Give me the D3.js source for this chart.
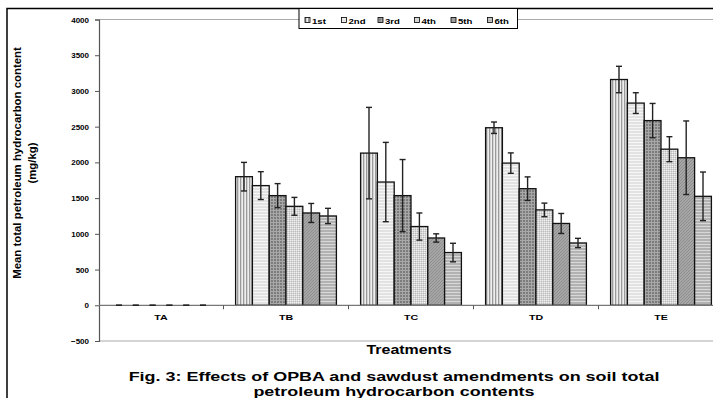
<!DOCTYPE html>
<html>
<head>
<meta charset="utf-8">
<script src="https://cdn.jsdelivr.net/npm/d3@7"></script>
<style>
  body { margin: 0; background: #fff; }
  svg { display: block; font-family: "Liberation Sans", Arial, sans-serif; }
</style>
</head>
<body>
<svg id="chart" width="713" height="398"></svg>
<script>
const treatments = ['TA', 'TB', 'TC', 'TD', 'TE'];
const series = ['1st', '2nd', '3rd', '4th', '5th', '6th'];
// mean TPH per treatment, one array per sampling
const means = {
  '1st': [0, 1800, 2130, 2485, 3160],
  '2nd': [0, 1675, 1725, 1990, 2830],
  '3rd': [0, 1535, 1535, 1632, 2585],
  '4th': [0, 1385, 1102, 1335, 2185],
  '5th': [0, 1292, 942, 1145, 2065],
  '6th': [0, 1250, 738, 872, 1525]
};
const errors = {
  '1st': [0, 200, 640, 80, 185],
  '2nd': [0, 195, 555, 143, 145],
  '3rd': [0, 168, 505, 165, 240],
  '4th': [0, 125, 190, 95, 175],
  '5th': [0, 133, 58, 140, 515],
  '6th': [0, 107, 130, 65, 340]
};
const yTicks = [-500, 0, 500, 1000, 1500, 2000, 2500, 3000, 3500, 4000];

const svg = d3.select('#chart');
const defs = svg.append('defs');

// the original picture is a little wider than tall, so text is stretched sideways
const SX = 1.33;
function label(x, y, txt, size, anchor) {
  return svg.append('text')
    .attr('transform', `translate(${x},${y}) scale(${SX},1)`)
    .attr('text-anchor', anchor || 'middle')
    .attr('font-size', size).attr('font-weight', 'bold')
    .text(txt);
}

// fill patterns, one per sampling
function pattern(id, w, h, bg, draw) {
  const p = defs.append('pattern')
    .attr('id', id)
    .attr('patternUnits', 'userSpaceOnUse')
    .attr('width', w).attr('height', h);
  p.append('rect').attr('width', w).attr('height', h).attr('fill', bg);
  draw(p);
}
pattern('p0', 3, 3, '#d4d4d4', p => {
  p.append('rect').attr('x', 0).attr('width', 1).attr('height', 3).attr('fill', '#9a9a9a');
  p.append('rect').attr('x', 2).attr('width', 1).attr('height', 3).attr('fill', '#eeeeee');
});
pattern('p1', 3, 3, '#e2e2e2', p => {
  p.append('rect').attr('y', 1).attr('width', 3).attr('height', 1).attr('fill', '#f6f6f6');
});
pattern('p2', 3, 3, '#7c7c7c', p => {
  p.append('rect').attr('x', 0).attr('width', 1).attr('height', 3).attr('fill', '#a8a8a8');
  p.append('rect').attr('y', 0).attr('width', 3).attr('height', 1).attr('fill', '#a8a8a8');
});
pattern('p3', 2, 2, '#d6d6d6', p => {
  p.append('rect').attr('x', 0).attr('y', 0).attr('width', 1).attr('height', 1).attr('fill', '#efefef');
  p.append('rect').attr('x', 1).attr('y', 1).attr('width', 1).attr('height', 1).attr('fill', '#bcbcbc');
});
pattern('p4', 3, 3, '#a6a6a6', p => {
  p.append('path').attr('d', 'M0,3 L3,0').attr('stroke', '#888').attr('stroke-width', 0.8);
});
pattern('p5', 3, 3, '#b2b2b2', p => {
  p.append('rect').attr('y', 1).attr('width', 3).attr('height', 1).attr('fill', '#d8d8d8');
});
const fillOf = s => `url(#p${series.indexOf(s)})`;

const x0 = d3.scaleBand().domain(treatments).range([98.5, 723.5]).padding(0);
const x1 = d3.scaleBand().domain(series).range([0, x0.bandwidth()]).paddingInner(0).paddingOuter(0.72);
const y = d3.scaleLinear().domain([-500, 4000]).range([341, 19.5]);

// outer frame
svg.append('path').attr('d', 'M7,398 V8.5 H713').attr('fill', 'none')
  .attr('stroke', '#000').attr('stroke-width', 1.5);

// top and bottom plot lines
svg.append('g').selectAll('line').data([4000, -500]).join('line')
  .attr('x1', 99).attr('x2', 713)
  .attr('y1', d => y(d)).attr('y2', d => y(d))
  .attr('stroke', '#aaa').attr('stroke-width', 1.2);

// y axis
const yAxis = svg.append('g').attr('transform', 'translate(99,0)')
  .call(d3.axisLeft(y).tickValues(yTicks).tickSize(4).tickPadding(6).tickFormat(d3.format('d')));
yAxis.select('.domain').attr('stroke', '#555').attr('stroke-width', 1.2);
yAxis.selectAll('.tick line').attr('stroke', '#555');
yAxis.selectAll('text').attr('font-size', 8).attr('font-weight', 'bold').attr('fill', '#000');

// bars
const rows = treatments.flatMap((t, i) => series.map(s => ({ t, s, v: means[s][i], e: errors[s][i] })));
svg.append('g').selectAll('rect').data(rows.filter(d => d.v > 0)).join('rect')
  .attr('x', d => x0(d.t) + x1(d.s))
  .attr('y', d => y(d.v))
  .attr('width', x1.bandwidth())
  .attr('height', d => y(0) - y(d.v))
  .attr('fill', d => fillOf(d.s))
  .attr('stroke', '#111').attr('stroke-width', 1.3);

// zero line and category ticks
svg.append('line').attr('x1', 99).attr('x2', 713).attr('y1', y(0)).attr('y2', y(0))
  .attr('stroke', '#777').attr('stroke-width', 1.2);
svg.append('g').selectAll('line').data(treatments.slice(1)).join('line')
  .attr('x1', d => x0(d)).attr('x2', d => x0(d))
  .attr('y1', y(0)).attr('y2', y(0) + 4)
  .attr('stroke', '#555');

// error bars
const eb = svg.append('g').attr('stroke', '#222').attr('stroke-width', 1.4);
rows.forEach(d => {
  const cx = x0(d.t) + x1(d.s) + x1.bandwidth() / 2;
  if (d.e > 0) {
    eb.append('line').attr('x1', cx).attr('x2', cx).attr('y1', y(d.v + d.e)).attr('y2', y(d.v - d.e));
  }
  [d.v + d.e, d.v - d.e].forEach(v => {
    eb.append('line').attr('x1', cx - 3).attr('x2', cx + 3).attr('y1', y(v)).attr('y2', y(v));
  });
});

// category labels
treatments.forEach(t => label(x0(t) + x0.bandwidth() / 2, 320, t, 8));

// axis titles
label(409, 354, 'Treatments', 12);
const yt = svg.append('text').attr('transform', 'translate(21,163) rotate(-90)')
  .attr('text-anchor', 'middle').attr('font-size', 11.4).attr('font-weight', 'bold');
yt.append('tspan').attr('x', 0).attr('y', 0).text('Mean total petroleum hydrocarbon content');
yt.append('tspan').attr('x', 0).attr('y', 15).text('(mg/kg)');

// caption
label(394, 381, 'Fig. 3: Effects of OPBA and sawdust amendments on soil total', 13.5);
label(394, 396, 'petroleum hydrocarbon contents', 13.5);

// legend
const lg = svg.append('g');
lg.append('rect').attr('x', 299).attr('y', 8.5).attr('width', 218.5).attr('height', 20)
  .attr('fill', '#fff').attr('stroke', '#000').attr('stroke-width', 1);
const li = lg.selectAll('g').data(series).join('g')
  .attr('transform', (d, i) => `translate(${305 + i * 36.5},17.5)`);
li.append('rect').attr('x', 0).attr('y', 0).attr('width', 5).attr('height', 5)
  .attr('fill', d => fillOf(d)).attr('stroke', '#000').attr('stroke-width', 0.8);
li.append('text').attr('transform', 'translate(7,6) scale(1.2,1)')
  .attr('font-size', 8).attr('font-weight', 'bold').text(d => d);
</script>
</body>
</html>
